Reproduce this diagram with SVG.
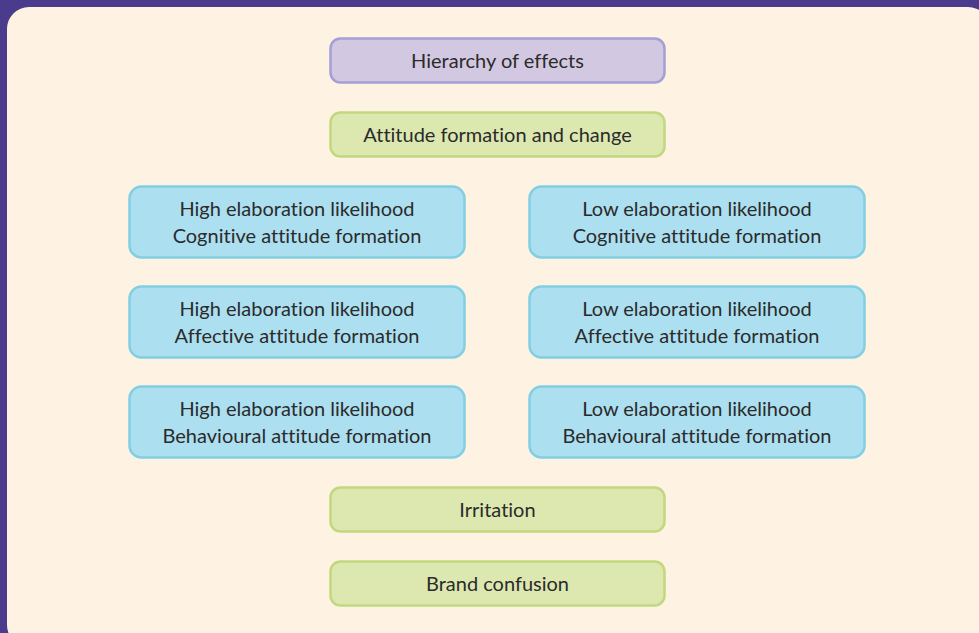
<svg xmlns="http://www.w3.org/2000/svg" width="979" height="633" viewBox="0 0 979 633">
<style>
.t{font-family:Lato,"Open Sans","Liberation Sans",sans-serif;font-size:20px;fill:#2b2b2b;text-anchor:middle;font-variant-ligatures:none;font-feature-settings:"liga" 0,"clig" 0}
.p{fill:#d3c8e1;stroke:#a3a0d5;stroke-width:2.5}
.g{fill:#dce8b0;stroke:#c1d87f;stroke-width:2.5}
.b{fill:#acdff0;stroke:#80cfe2;stroke-width:2.5}
</style>
<rect x="0" y="0" width="979" height="633" fill="#4a3b8c"/>
<rect x="7" y="7" width="983" height="640" rx="22" fill="#fef2e3"/>
<g id="connectors"></g>
<g id="hierarchy"><rect class="p" x="330.5" y="38.5" width="334" height="44" rx="10"/><text class="t" x="497.5" y="68">Hierarchy of effects</text></g>
<g id="attitude"><rect class="g" x="330.5" y="112.5" width="334" height="44" rx="10"/><text class="t" x="497.5" y="142">Attitude formation and change</text></g>
<g id="high-cog"><rect class="b" x="129.5" y="186.5" width="335" height="71" rx="12"/><text class="t" x="297" y="216">High elaboration likelihood</text><text class="t" x="297" y="243">Cognitive attitude formation</text></g>
<g id="low-cog"><rect class="b" x="529.5" y="186.5" width="335" height="71" rx="12"/><text class="t" x="697" y="216">Low elaboration likelihood</text><text class="t" x="697" y="243">Cognitive attitude formation</text></g>
<g id="high-aff"><rect class="b" x="129.5" y="286.5" width="335" height="71" rx="12"/><text class="t" x="297" y="316">High elaboration likelihood</text><text class="t" x="297" y="343">Affective attitude formation</text></g>
<g id="low-aff"><rect class="b" x="529.5" y="286.5" width="335" height="71" rx="12"/><text class="t" x="697" y="316">Low elaboration likelihood</text><text class="t" x="697" y="343">Affective attitude formation</text></g>
<g id="high-beh"><rect class="b" x="129.5" y="386.5" width="335" height="71" rx="12"/><text class="t" x="297" y="416">High elaboration likelihood</text><text class="t" x="297" y="443">Behavioural attitude formation</text></g>
<g id="low-beh"><rect class="b" x="529.5" y="386.5" width="335" height="71" rx="12"/><text class="t" x="697" y="416">Low elaboration likelihood</text><text class="t" x="697" y="443">Behavioural attitude formation</text></g>
<g id="irritation"><rect class="g" x="330.5" y="487.5" width="334" height="44" rx="10"/><text class="t" x="497.5" y="517">Irritation</text></g>
<g id="brand"><rect class="g" x="330.5" y="561.5" width="334" height="44" rx="10"/><text class="t" x="497.5" y="591">Brand confusion</text></g>
</svg>
